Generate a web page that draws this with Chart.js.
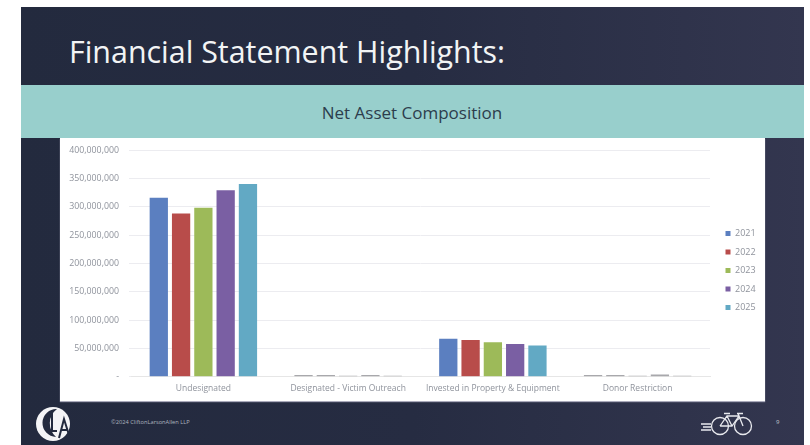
<!DOCTYPE html>
<html><head><meta charset="utf-8">
<script src="https://cdn.jsdelivr.net/npm/chart.js@4/dist/chart.umd.min.js"></script>
<style>
html,body{margin:0;padding:0;background:#fff;width:810px;height:445px;overflow:hidden;font-family:"Open Sans",sans-serif}
#slide{position:absolute;left:21px;top:7px;width:783px;height:438px;background:linear-gradient(90deg,#232a3e 0%,#262c42 50%,#33364f 100%)}
#title{position:absolute;left:69px;top:32px;color:#f2f4f5;font-size:30.4px;line-height:40px;white-space:nowrap}
#band{position:absolute;left:21px;top:85px;width:783px;height:53px;background:#98cfcc;text-align:center;color:#2c3d4c;font-size:17px;line-height:55px;text-indent:-1px}
#panel{position:absolute;left:60px;top:138px;width:705px;height:263px;background:#fff;box-shadow:0 1px 1px #aab}
#wrap{position:absolute;left:60px;top:138px;width:705px;height:263px;filter:blur(.35px)}
#copy{position:absolute;left:111px;top:418px;color:#aeb3bf;font-size:5.7px;line-height:8px;white-space:nowrap}
#page{position:absolute;left:776px;top:418px;color:#c4c7d0;font-size:6px;line-height:9px}
svg{position:absolute}
</style></head><body>
<div id="slide"></div>
<div id="title">Financial Statement Highlights:</div>
<div id="band">Net Asset Composition</div>
<div id="panel"></div>
<div id="wrap"><canvas id="c" width="705" height="263"></canvas></div>
<svg style="left:35px;top:405px" width="38" height="38" viewBox="0 0 38 38">
<circle cx="18" cy="19" r="17" fill="#f4f4f6"/>
<path d="M22 4 A14 14 0 1 0 21 32 A18 18 0 0 1 22 4Z" fill="#232a3e"/>
<path d="M17 7V26M12 26H22M24 33L29 14L34 30M26 25H32" stroke="#232a3e" stroke-width="2" fill="none"/>
</svg>
<div id="copy">©2024 CliftonLarsonAllen LLP</div>
<svg style="left:700px;top:411px" width="56" height="26" viewBox="0 0 56 26" fill="none" stroke="#e8e9ee" stroke-width="1.3">
<circle cx="20" cy="15" r="8.5"/><circle cx="43" cy="15" r="8.5"/>
<path d="M20 15L27 5H39L43 15M20 15H32L39 5M27 5L32 15M24 2.5H30M37 2.5H43M39 5L38 2.5"/>
<path d="M1 13H11M3 16H11M1 19H11"/>
</svg>
<div id="page">9</div>
<script>
const categories = ["Undesignated","Designated - Victim Outreach","Invested in Property & Equipment","Donor Restriction"];
const years = ["2021","2022","2023","2024","2025"];
const v2021 = [316000000,3000000,67000000,3000000];
const v2022 = [288000000,3000000,65000000,3000000];
const v2023 = [298000000,2000000,61000000,2000000];
const v2024 = [329000000,3000000,58000000,4000000];
const v2025 = [340000000,2000000,55000000,2000000];
const yTicks = [0,50000000,100000000,150000000,200000000,250000000,300000000,350000000,400000000];
const colours = ["#5b7fc0","#b84c4a","#9dba59","#7a5fa3","#62a9c4"];
const thinGrey = "#a8a8ac";
const series = [v2021,v2022,v2023,v2024,v2025];
const legendPlace = {id:"legendPlace",
  beforeUpdate(chart){
    const l=chart.legend;
    if(l&&!l._widened){const f=l.fit;l.fit=function(){f.call(this);this.width=55;};l._widened=true;}
  },
  afterLayout(chart){chart.legend.left+=6;chart.legend.top-=1;chart.legend.bottom-=1;}
};
new Chart(document.getElementById("c"),{
  type:"bar",
  plugins:[legendPlace],
  data:{labels:categories,datasets:series.map((d,i)=>({
    label:years[i],data:d,
    backgroundColor:[colours[i],thinGrey,colours[i],thinGrey],
    categoryPercentage:0.77,barPercentage:0.82,borderWidth:0}))},
  options:{
    responsive:false,animation:false,
    layout:{padding:{top:12,bottom:8,left:0,right:0}},
    plugins:{
      title:{display:false},tooltip:{enabled:false},
      legend:{position:"right",align:"center",
        labels:{boxWidth:5,boxHeight:5,padding:9.5,color:"#8f939c",font:{size:9,family:"Open Sans"},
          generateLabels:()=>years.map((y,i)=>({text:y,fillStyle:colours[i],strokeStyle:colours[i],lineWidth:0,datasetIndex:i,fontColor:"#8f939c"}))}}
    },
    scales:{
      x:{grid:{display:false},border:{display:true,color:"#e6e6e6"},
        ticks:{color:"#8f939c",font:{size:8.5,family:"Open Sans"},padding:-1,maxRotation:0,autoSkip:false}},
      y:{min:0,max:400000000,
        afterBuildTicks:s=>{s.ticks=yTicks.map(v=>({value:v}))},
        afterFit:s=>{s.width=71;s.paddingTop=0;s.paddingBottom=0;},
        grid:{color:"#ececf0",lineWidth:1,drawTicks:true,tickLength:2},border:{display:false},
        ticks:{color:"#8f939c",font:{size:8.8,family:"Open Sans"},padding:10,
          callback:v=>v===0?"-":v.toLocaleString("en-US")}}
    }
  }
});
</script>
</body></html>
